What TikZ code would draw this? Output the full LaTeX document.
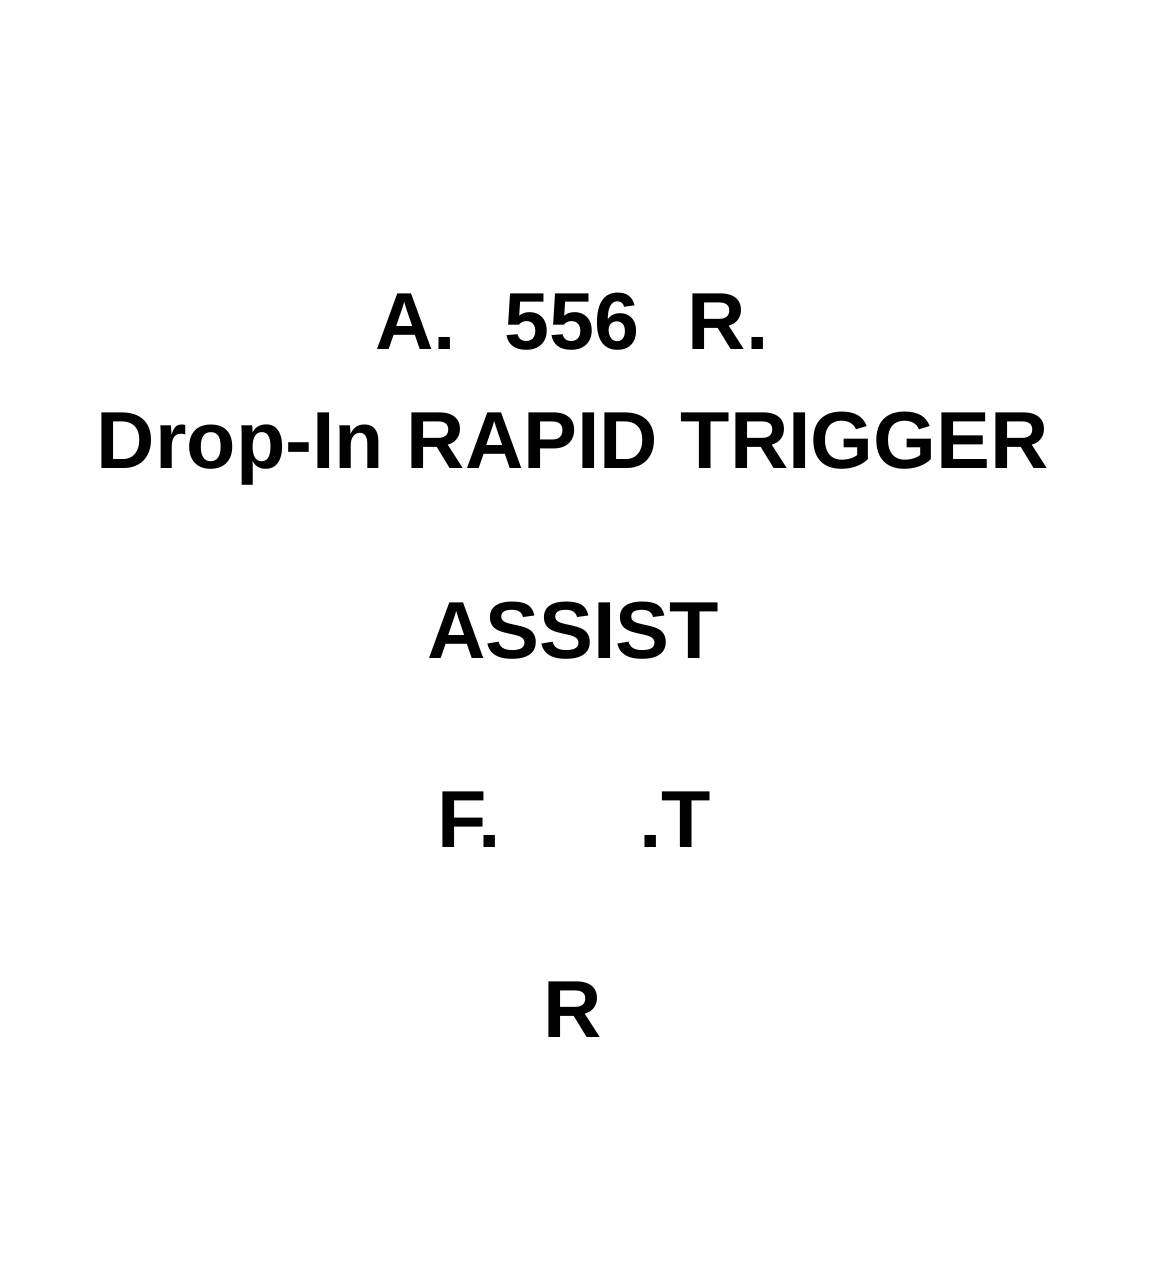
\documentclass[tikz,border=0pt]{standalone}
\usepackage{fontspec}
\setmainfont{Liberation Sans}
\begin{document}
\begin{tikzpicture}[x=1cm, y=1cm]
%Khung ảnh
\useasboundingbox (0,0) rectangle (11.68,-12.82);
\tikzset{title/.style={font=\fontsize{23}{26}\selectfont\bfseries, inner sep=0pt, anchor=base}}
%Các dòng chữ
\node[title] (ten) at (5.72,-3.50) {A.\hspace{0.6em}556\hspace{0.6em}R.};
\node[title] (loai) at (5.73,-4.68) {Drop-In RAPID TRIGGER};
\node[title] (assist) at (5.73,-6.58) {ASSIST};
\node[title, anchor=base west] (fire) at (4.37,-8.47) {F.};
\node[title, anchor=base east] (trig) at (7.12,-8.47) {.T};
\node[title] (reset) at (5.73,-10.37) {R};
\end{tikzpicture}
\end{document}
